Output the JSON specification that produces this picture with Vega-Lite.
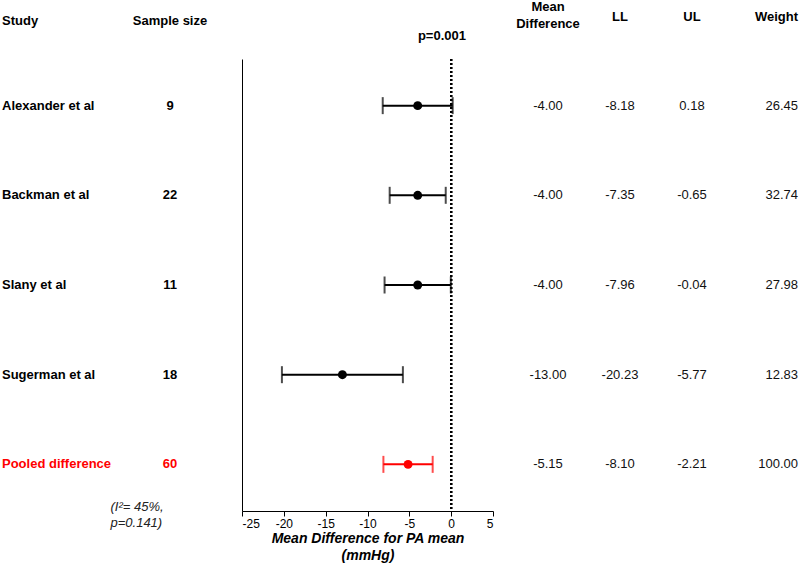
{
  "$schema": "https://vega.github.io/schema/vega-lite/v6.json",
  "padding": {"left": 2, "right": 2, "top": 1, "bottom": 4},
  "background": "white",
  "bounds": "flush",
  "spacing": 0,
  "config": {
    "font": "Liberation Sans",
    "view": {"stroke": null},
    "locale": {"number": {"decimal": ".", "thousands": ",", "grouping": [3], "currency": ["$", ""], "minus": "-"}},
    "title": {"fontSize": 13, "fontWeight": "bold", "color": "black", "baseline": "alphabetic", "frame": "group"}
  },
  "data": {
    "values": [
      {"study": "Alexander et al", "n": 9, "md": -4.00, "ll": -8.18, "ul": 0.18, "weight": 26.45, "group": "study"},
      {"study": "Backman et al", "n": 22, "md": -4.00, "ll": -7.35, "ul": -0.65, "weight": 32.74, "group": "study"},
      {"study": "Slany et al", "n": 11, "md": -4.00, "ll": -7.96, "ul": -0.04, "weight": 27.98, "group": "study"},
      {"study": "Sugerman et al", "n": 18, "md": -13.00, "ll": -20.23, "ul": -5.77, "weight": 12.83, "group": "study"},
      {"study": "Pooled difference", "n": 60, "md": -5.15, "ll": -8.10, "ul": -2.21, "weight": 100.00, "group": "pooled"}
    ]
  },
  "resolve": {"scale": {"x": "independent", "y": "independent"}},
  "hconcat": [
    {
      "width": 96, "height": 452,
      "title": {"text": "Study", "anchor": "start", "offset": 31},
      "mark": {"type": "text", "align": "left", "baseline": "middle", "fontSize": 13, "fontWeight": "bold"},
      "encoding": {
        "y": {"field": "study", "type": "nominal", "sort": null, "scale": {"type": "point", "padding": 0.52}, "axis": null},
        "x": {"datum": "Study", "type": "nominal", "scale": {"type": "point", "padding": 0, "align": 0}, "axis": null},
        "text": {"field": "study"},
        "color": {"field": "group", "type": "nominal", "scale": {"domain": ["study", "pooled"], "range": ["#000000", "#ff0000"]}, "legend": null}
      }
    },
    {
      "width": 144, "height": 452,
      "title": {"text": "Sample size", "anchor": "middle", "offset": 31},
      "mark": {"type": "text", "align": "center", "baseline": "middle", "fontSize": 13, "fontWeight": "bold"},
      "encoding": {
        "y": {"field": "study", "type": "nominal", "sort": null, "scale": {"type": "point", "padding": 0.52}, "axis": null},
        "x": {"datum": "Sample size", "type": "nominal", "scale": {"type": "point", "padding": 0, "align": 0.5},
          "axis": {"orient": "bottom", "domain": false, "ticks": false, "labels": false, "grid": false,
            "title": ["(I²= 45%,", "p=0.141)"], "titleFontSize": 13, "titleFontWeight": "normal", "titleFontStyle": "italic",
            "titleColor": "#222222", "titleAnchor": "start", "titleAlign": "left", "titleX": 12, "titleY": -1,
            "titleBaseline": "alphabetic", "titleLineHeight": 16}},
        "text": {"field": "n"},
        "color": {"field": "group", "type": "nominal", "scale": {"domain": ["study", "pooled"], "range": ["#000000", "#ff0000"]}, "legend": null}
      }
    },
    {
      "width": 251, "height": 452,
      "title": {"text": "p=0.001", "anchor": "end", "offset": 15, "dx": -27},
      "layer": [
        {
          "mark": {"type": "rule", "strokeDash": [2, 2], "strokeWidth": 2, "color": "black"},
          "encoding": {
            "x": {"datum": 0, "type": "quantitative",
              "scale": {"domain": [-25, 5], "nice": false, "zero": false},
              "axis": {"values": [-25, -20, -15, -10, -5, 0, 5], "grid": false, "domainColor": "black", "tickColor": "black",
                "tickSize": 5, "labelFontSize": 12, "labelColor": "black", "labelPadding": 2,
                "title": ["Mean Difference for PA mean", "(mmHg)"], "titleFontSize": 14, "titleFontWeight": "bold",
                "titleFontStyle": "italic", "titleColor": "black", "titlePadding": 2, "titleLineHeight": 17}}
          }
        },
        {
          "mark": {"type": "rule", "strokeWidth": 2},
          "encoding": {
            "y": {"field": "study", "type": "nominal", "sort": null, "scale": {"type": "point", "padding": 0.52},
              "axis": {"domain": true, "domainColor": "black", "ticks": false, "labels": false, "title": null, "grid": false}},
            "x": {"field": "ll", "type": "quantitative"},
            "x2": {"field": "ul"},
            "color": {"field": "group", "type": "nominal", "scale": {"domain": ["study", "pooled"], "range": ["#000000", "#ff0000"]}, "legend": null}
          }
        },
        {
          "mark": {"type": "tick", "orient": "vertical", "size": 17, "thickness": 2},
          "encoding": {
            "y": {"field": "study", "type": "nominal", "sort": null},
            "x": {"field": "ll", "type": "quantitative"},
            "color": {"field": "group", "type": "nominal", "legend": null}
          }
        },
        {
          "mark": {"type": "tick", "orient": "vertical", "size": 17, "thickness": 2},
          "encoding": {
            "y": {"field": "study", "type": "nominal", "sort": null},
            "x": {"field": "ul", "type": "quantitative"},
            "color": {"field": "group", "type": "nominal", "legend": null}
          }
        },
        {
          "mark": {"type": "point", "filled": true, "size": 80, "opacity": 1},
          "encoding": {
            "y": {"field": "study", "type": "nominal", "sort": null},
            "x": {"field": "md", "type": "quantitative"},
            "color": {"field": "group", "type": "nominal", "legend": null}
          }
        }
      ]
    },
    {
      "width": 110, "height": 452,
      "title": {"text": ["Mean", "Difference"], "anchor": "middle", "offset": 28, "lineHeight": 17},
      "mark": {"type": "text", "align": "center", "baseline": "middle", "fontSize": 13, "color": "#111111"},
      "encoding": {
        "y": {"field": "study", "type": "nominal", "sort": null, "scale": {"type": "point", "padding": 0.52}, "axis": null},
        "x": {"datum": "Mean Difference", "type": "nominal", "scale": {"type": "point", "padding": 0, "align": 0.5}, "axis": null},
        "text": {"field": "md", "format": ".2f"}
      }
    },
    {
      "width": 34, "height": 452,
      "title": {"text": "LL", "anchor": "middle", "offset": 35.5},
      "mark": {"type": "text", "align": "center", "baseline": "middle", "fontSize": 13, "color": "#111111"},
      "encoding": {
        "y": {"field": "study", "type": "nominal", "sort": null, "scale": {"type": "point", "padding": 0.52}, "axis": null},
        "x": {"datum": "LL", "type": "nominal", "scale": {"type": "point", "padding": 0, "align": 0.5}, "axis": null},
        "text": {"field": "ll", "format": ".2f"}
      }
    },
    {
      "width": 110, "height": 452,
      "title": {"text": "UL", "anchor": "middle", "offset": 35.5},
      "mark": {"type": "text", "align": "center", "baseline": "middle", "fontSize": 13, "color": "#111111"},
      "encoding": {
        "y": {"field": "study", "type": "nominal", "sort": null, "scale": {"type": "point", "padding": 0.52}, "axis": null},
        "x": {"datum": "UL", "type": "nominal", "scale": {"type": "point", "padding": 0, "align": 0.5}, "axis": null},
        "text": {"field": "ul", "format": ".2f"}
      }
    },
    {
      "width": 51, "height": 452,
      "title": {"text": "Weight", "anchor": "end", "offset": 35.5},
      "mark": {"type": "text", "align": "right", "baseline": "middle", "fontSize": 13, "color": "#111111"},
      "encoding": {
        "y": {"field": "study", "type": "nominal", "sort": null, "scale": {"type": "point", "padding": 0.52}, "axis": null},
        "x": {"datum": "Weight", "type": "nominal", "scale": {"type": "point", "padding": 0, "align": 1}, "axis": null},
        "text": {"field": "weight", "format": ".2f"}
      }
    }
  ]
}
